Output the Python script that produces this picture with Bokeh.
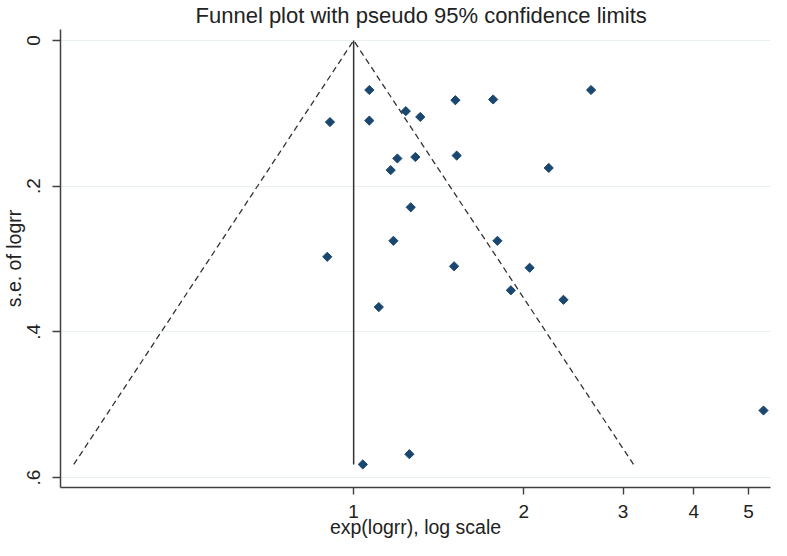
import math
from bokeh.plotting import figure
from bokeh.models import Range1d, FixedTicker, CustomJSTickFormatter, Title
from bokeh.embed import file_html
from bokeh.resources import INLINE

# ---- data ----
rr = [1.066, 0.908, 1.066, 1.237, 1.312, 1.514, 1.766, 2.632, 1.163, 1.195,
      1.286, 1.522, 2.215, 1.262, 1.176, 1.797, 0.898, 1.506, 2.049, 1.898,
      2.352, 1.108, 1.255, 1.038, 5.316]
se = [0.068, 0.112, 0.110, 0.097, 0.105, 0.082, 0.081, 0.068, 0.178, 0.162,
      0.160, 0.158, 0.175, 0.229, 0.275, 0.275, 0.297, 0.310, 0.312, 0.343,
      0.356, 0.366, 0.568, 0.582, 0.508]
x_ticks = [1, 2, 3, 4, 5]
y_ticks = [0, 0.2, 0.4, 0.6]
title_text = "Funnel plot with pseudo 95% confidence limits"
x_label = "exp(logrr), log scale"
y_label = "s.e. of logrr"

FONT = "Liberation Sans"
TEXT = "#222222"
AXIS = "#404040"
NAVY = "#1a476f"

se_max = max(se)
z = 1.96
lo = math.exp(-z * se_max)
hi = math.exp(z * se_max)

p = figure(width=771, height=540, x_axis_type="log",
           x_range=Range1d(0.3027, 5.470), y_range=Range1d(0.61370, -0.01507),
           output_backend="svg", toolbar_location=None,
           min_border_left=58, min_border_right=1, min_border_top=29, min_border_bottom=52)
p.outline_line_color = None
p.background_fill_color = "white"
p.border_fill_color = "white"

# title
p.title.text = title_text
p.title.align = "left"
p.title.vertical_align = "top"
p.title.text_font = FONT
p.title.text_font_size = "22px"
p.title.text_font_style = "normal"
p.title.text_color = TEXT
p.title.standoff = 0
p.title.offset = 135

# grid
p.xgrid.visible = False
p.ygrid.grid_line_color = "#e8f0f2"
p.ygrid.grid_line_width = 1.2

# funnel lines
p.line([lo, 1, hi], [se_max, 0, se_max], line_color="#333333", line_width=1.3, line_dash="6 4")
p.line([1, 1], [0, se_max], line_color="#333333", line_width=1.5)

# points
p.scatter(x=rr, y=se, marker="square", angle=math.pi / 4, size=6.5,
          fill_color=NAVY, line_color=NAVY, line_width=1)

# axes
for ax in (p.xaxis[0], p.yaxis[0]):
    ax.axis_line_color = AXIS
    ax.axis_line_width = 1.5
    ax.major_tick_line_color = AXIS
    ax.major_tick_line_width = 1.4
    ax.major_tick_in = 0
    ax.minor_tick_line_color = None
    ax.major_label_text_font = FONT
    ax.major_label_text_font_size = "19px"
    ax.major_label_text_color = TEXT

p.xaxis[0].axis_label = x_label
p.xaxis[0].axis_label_text_font = FONT
p.xaxis[0].axis_label_text_font_size = "19.5px"
p.xaxis[0].axis_label_text_font_style = "normal"
p.xaxis[0].axis_label_text_color = TEXT
p.xaxis[0].ticker = FixedTicker(ticks=x_ticks, minor_ticks=[])
p.xaxis[0].formatter = CustomJSTickFormatter(code="return String(Math.round(tick*100)/100);")
p.xaxis[0].major_tick_out = 7
p.xaxis[0].major_label_standoff = 10
p.xaxis[0].axis_label_standoff = -5

p.yaxis[0].ticker = FixedTicker(ticks=y_ticks, minor_ticks=[])
p.yaxis[0].formatter = CustomJSTickFormatter(
    code="if (Math.abs(tick) < 1e-9) { return '0'; } return tick.toFixed(1).replace(/^0/, '');")
p.yaxis[0].major_tick_out = 8
p.yaxis[0].major_label_standoff = 12
p.yaxis[0].major_label_orientation = "parallel"

# y axis title as a side title
p.add_layout(Title(text=y_label, align="center", text_font=FONT, text_font_size="19.5px",
                   text_font_style="normal", text_color=TEXT, standoff=0), "left")

open("out.html", "w").write(file_html(p, INLINE))
